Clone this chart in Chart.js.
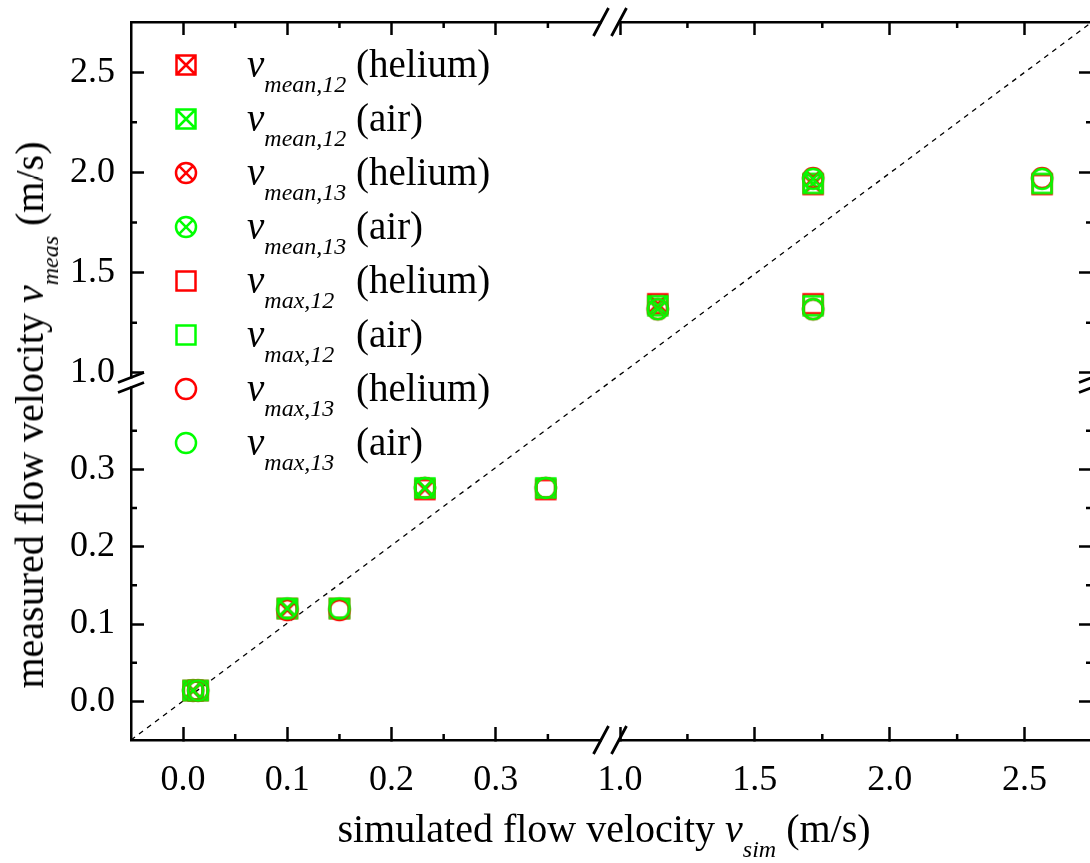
<!DOCTYPE html>
<html>
<head>
<meta charset="utf-8">
<title>measured vs simulated flow velocity</title>
<script src="https://cdn.jsdelivr.net/npm/chart.js@4.4.1/dist/chart.umd.min.js"></script>
<style>
  html, body { margin: 0; padding: 0; background: #fff; overflow: hidden; }
  #wrap { position: relative; width: 1090px; height: 863px; overflow: hidden;
          font-family: "Liberation Serif", "Times New Roman", serif; color: #000; }
  #chart { position: absolute; left: 0; top: 0; }
  .lg-mark { position: absolute; }
  .lg-text { position: absolute; white-space: nowrap; line-height: 1; font-size: 39px; }
  .it { font-style: italic; }
  .sub { font-style: italic; font-size: 24px; vertical-align: -15px; }
  .title { position: absolute; white-space: nowrap; line-height: 1; font-size: 40px; }
</style>
</head>
<body>
<div id="wrap">
  <canvas id="chart" width="1094" height="863"></canvas>
  <div id="legend"></div>
  <div class="title" id="xTitle">simulated flow velocity <span class="it">v</span><span class="sub">sim</span> (m/s)</div>
  <div class="title" id="yTitle">measured flow velocity <span class="it">v</span><span class="sub">meas</span> (m/s)</div>
</div>
<script>
// simulated velocities (m/s): mean and maximum of the simulated profile
const vSimMean = [0.0096, 0.100, 0.232, 1.140, 1.716];
const vSimMax  = [0.0144, 0.150, 0.348, 1.716, 2.565];

// measured velocities (m/s) for sensor pairs 1-2 and 1-3
const vMeas12Helium = [0.014, 0.120, 0.274, 1.345, 1.940];
const vMeas12Air    = [0.014, 0.120, 0.276, 1.335, 1.945];
const vMeas13Helium = [0.014, 0.118, 0.276, 1.318, 1.972];
const vMeas13Air    = [0.014, 0.120, 0.276, 1.318, 1.968];

const xTicks = [0.0, 0.1, 0.2, 0.3, 1.0, 1.5, 2.0, 2.5];
const xMinorTicks = [0.05, 0.15, 0.25, 0.35, 1.25, 1.75, 2.25];
const yTicks = [0.0, 0.1, 0.2, 0.3, 1.0, 1.5, 2.0, 2.5];
const yMinorTicks = [0.05, 0.15, 0.25, 0.35, 1.25, 1.75, 2.25];

// y = x reference line across the full axis range
const diagonal = [-0.05, 2.75];

// broken axes: lower and upper segment, lengths in px of the plot area
const xBreak = {lo: [-0.05, 0.4], hi: [1.0, 2.75], loLen: 469, gap: 20, hiLen: 472};
const yBreak = {lo: [-0.05, 0.4], hi: [1.0, 2.75], loLen: 348, gap: 19, hiLen: 351};

function axisLen(b){ return b.loLen + b.gap + b.hiLen; }
function toAxis(b, v){
  if (v <= b.lo[1]) return (v - b.lo[0]) / (b.lo[1] - b.lo[0]) * b.loLen;
  return b.loLen + b.gap + (v - b.hi[0]) / (b.hi[1] - b.hi[0]) * b.hiLen;
}

const RED = '#ff0000';
const GREEN = '#00ff00';

function makeMarker(shape, crossed, color){
  const size = 28;
  const c = document.createElement('canvas');
  c.width = size; c.height = size;
  const g = c.getContext('2d');
  const m = size / 2;
  g.strokeStyle = color;
  g.lineWidth = 2.5;
  g.beginPath();
  if (shape === 'square') {
    const h = 9.5;
    g.rect(m - h, m - h, 2 * h, 2 * h);
    if (crossed) {
      g.moveTo(m - h, m - h); g.lineTo(m + h, m + h);
      g.moveTo(m + h, m - h); g.lineTo(m - h, m + h);
    }
  } else {
    const r = 10;
    g.arc(m, m, r, 0, Math.PI * 2);
    if (crossed) {
      const d = r * Math.SQRT1_2;
      g.moveTo(m - d, m - d); g.lineTo(m + d, m + d);
      g.moveTo(m + d, m - d); g.lineTo(m - d, m + d);
    }
  }
  g.stroke();
  return c;
}

const series = [
  {kind: 'mean', pair: '12', gas: 'helium', sim: vSimMean, meas: vMeas12Helium, shape: 'square', crossed: true,  color: RED},
  {kind: 'mean', pair: '12', gas: 'air',    sim: vSimMean, meas: vMeas12Air,    shape: 'square', crossed: true,  color: GREEN},
  {kind: 'mean', pair: '13', gas: 'helium', sim: vSimMean, meas: vMeas13Helium, shape: 'circle', crossed: true,  color: RED},
  {kind: 'mean', pair: '13', gas: 'air',    sim: vSimMean, meas: vMeas13Air,    shape: 'circle', crossed: true,  color: GREEN},
  {kind: 'max',  pair: '12', gas: 'helium', sim: vSimMax,  meas: vMeas12Helium, shape: 'square', crossed: false, color: RED},
  {kind: 'max',  pair: '12', gas: 'air',    sim: vSimMax,  meas: vMeas12Air,    shape: 'square', crossed: false, color: GREEN},
  {kind: 'max',  pair: '13', gas: 'helium', sim: vSimMax,  meas: vMeas13Helium, shape: 'circle', crossed: false, color: RED},
  {kind: 'max',  pair: '13', gas: 'air',    sim: vSimMax,  meas: vMeas13Air,    shape: 'circle', crossed: false, color: GREEN}
];

const datasets = series.map((s, i) => ({
  type: 'scatter',
  label: `v ${s.kind},${s.pair} (${s.gas})`,
  data: s.sim.map((x, k) => ({x: toAxis(xBreak, x), y: toAxis(yBreak, s.meas[k])})),
  pointStyle: makeMarker(s.shape, s.crossed, s.color),
  pointRadius: 10,
  order: series.length - i   // later series end up on top
}));

datasets.push({
  type: 'line',
  label: 'y = x',
  data: diagonal.map(v => ({x: toAxis(xBreak, v), y: toAxis(yBreak, v)})),
  borderColor: '#000',
  borderWidth: 1.3,
  borderDash: [5, 5],
  pointRadius: 0,
  order: 20
});

const tickFont = {family: '"Liberation Serif", "Times New Roman", serif', size: 36};
const FRAME = 2.5;

function frameScale(pos, tickVals, brk, size, showLabels, pad){
  return {
    type: 'linear',
    position: pos,
    min: 0,
    max: axisLen(brk),
    afterBuildTicks: s => { s.ticks = tickVals.map(v => ({value: toAxis(brk, v)})); },
    afterFit: s => {
      if (pos === 'top' || pos === 'bottom') s.height = size; else s.width = size;
      // the frame is fixed, so labels must not push the plot area around
      s.paddingTop = s.paddingBottom = s.paddingLeft = s.paddingRight = 0;
    },
    ticks: {
      display: showLabels,
      autoSkip: false,
      maxRotation: 0,
      padding: pad,
      color: '#000',
      font: tickFont,
      callback: (v, i) => tickVals[i].toFixed(1)
    },
    grid: {drawOnChartArea: false, drawTicks: true, tickLength: -13, tickWidth: FRAME, tickColor: '#000'},
    border: {display: true, color: '#000', width: FRAME}
  };
}

// short inward ticks at the minor positions on all four sides
const minorTicks = {
  id: 'minorTicks',
  afterDraw(chart){
    const {ctx, chartArea: a, scales} = chart;
    ctx.save();
    ctx.strokeStyle = '#000';
    ctx.lineWidth = FRAME;
    ctx.beginPath();
    xMinorTicks.forEach(v => {
      const px = scales.x.getPixelForValue(toAxis(xBreak, v));
      ctx.moveTo(px, a.bottom); ctx.lineTo(px, a.bottom - 6);
      ctx.moveTo(px, a.top); ctx.lineTo(px, a.top + 6);
    });
    yMinorTicks.forEach(v => {
      const py = scales.y.getPixelForValue(toAxis(yBreak, v));
      ctx.moveTo(a.left, py); ctx.lineTo(a.left + 6, py);
      ctx.moveTo(a.right, py); ctx.lineTo(a.right - 6, py);
    });
    ctx.stroke();
    ctx.restore();
  }
};

// gap in the frame plus the double-slash marks where each axis is broken
const axisBreaks = {
  id: 'axisBreaks',
  afterDraw(chart){
    const {ctx, chartArea: a, scales} = chart;
    const gx = (scales.x.getPixelForValue(toAxis(xBreak, xBreak.lo[1])) +
                scales.x.getPixelForValue(toAxis(xBreak, xBreak.hi[0]))) / 2;
    const gy = (scales.y.getPixelForValue(toAxis(yBreak, yBreak.lo[1])) +
                scales.y.getPixelForValue(toAxis(yBreak, yBreak.hi[0]))) / 2;
    ctx.save();
    ctx.fillStyle = '#fff';
    [a.top, a.bottom].forEach(y => ctx.fillRect(gx - 8, y - 3, 16, 6));
    [a.left, a.right].forEach(x => ctx.fillRect(x - 3, gy - 4, 6, 8));
    ctx.strokeStyle = '#000';
    ctx.lineWidth = 2.8;
    ctx.beginPath();
    [a.top, a.bottom].forEach(y => {
      [gx - 9, gx + 9].forEach(x => {
        ctx.moveTo(x - 7.5, y + 14); ctx.lineTo(x + 7.5, y - 14);
      });
    });
    [a.left, a.right].forEach(x => {
      [gy - 5, gy + 5].forEach(y => {
        ctx.moveTo(x - 13, y + 5); ctx.lineTo(x + 13, y - 5);
      });
    });
    ctx.stroke();
    ctx.restore();
  }
};

new Chart(document.getElementById('chart').getContext('2d'), {
  type: 'scatter',
  data: {datasets},
  options: {
    responsive: false,
    animation: false,
    devicePixelRatio: 1,
    layout: {padding: 0, autoPadding: false},
    plugins: {legend: {display: false}, tooltip: {enabled: false}},
    scales: {
      x:  frameScale('bottom', xTicks, xBreak, 123, true, 32),
      x2: frameScale('top',    xTicks, xBreak, 22,  false, 0),
      y:  frameScale('left',   yTicks, yBreak, 131, true, 29),
      y2: frameScale('right',  yTicks, yBreak, 2,   false, 0)
    }
  },
  plugins: [minorTicks, axisBreaks]
});

// legend: marker, italic v with subscript, gas name in its own column
const legend = document.getElementById('legend');
series.forEach((s, i) => {
  const cy = 65 + 54 * i;
  const mark = makeMarker(s.shape, s.crossed, s.color);
  mark.className = 'lg-mark';
  mark.style.left = (186 - mark.width / 2) + 'px';
  mark.style.top = (cy - mark.height / 2) + 'px';
  legend.appendChild(mark);

  const top = cy + 12 - 0.8375 * 39;
  const sym = document.createElement('div');
  sym.className = 'lg-text';
  sym.style.left = '247px';
  sym.style.top = top + 'px';
  sym.innerHTML = `<span class="it">v</span><span class="sub">${s.kind},${s.pair}</span>`;
  legend.appendChild(sym);

  const gas = document.createElement('div');
  gas.className = 'lg-text';
  gas.style.left = '356px';
  gas.style.top = top + 'px';
  gas.textContent = `(${s.gas})`;
  legend.appendChild(gas);
});

const xTitle = document.getElementById('xTitle');
xTitle.style.left = '604px';
xTitle.style.top = (842 - 0.8375 * 40) + 'px';
xTitle.style.transform = 'translateX(-50%)';

const yTitle = document.getElementById('yTitle');
yTitle.style.left = '36px';
yTitle.style.top = '415px';
yTitle.style.transform = 'translate(-50%, -50%) rotate(-90deg)';
</script>
</body>
</html>
